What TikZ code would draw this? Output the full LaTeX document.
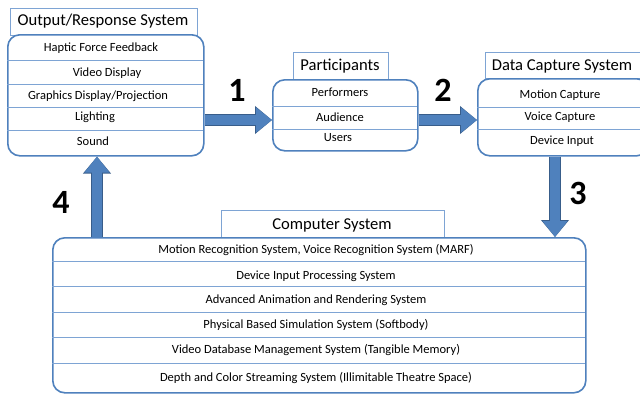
\documentclass[tikz,border=0pt]{standalone}
\usepackage{fontspec}
\setmainfont{Carlito}
\usetikzlibrary{arrows.meta}

\definecolor{boxblue}{RGB}{79,129,189}
\definecolor{rulblue}{RGB}{126,164,212}
\definecolor{arredge}{RGB}{56,93,138}

\tikzset{
  panel/.style={draw=boxblue,line width=1.6pt,rounded corners=12pt,fill=white,anchor=north west,inner sep=0pt},
  heading/.style={draw=rulblue,line width=.6pt,fill=white,anchor=north west,inner sep=0pt},
  title/.style={anchor=center,inner sep=0pt,font=\fontsize{16.6}{19}\selectfont},
  divider/.style={draw=rulblue,line width=.7pt},
  item/.style={anchor=center,inner sep=1pt,font=\fontsize{12.5}{14}\selectfont},
  stepnum/.style={anchor=center,inner sep=0pt,font=\fontsize{34}{38}\selectfont\bfseries},
  fatarrow/.style={draw=boxblue,line width=10pt,-{Triangle[length=16pt,width=24pt]},
    preaction={draw=arredge,line width=12pt,-{Triangle[length=17pt,width=27pt]}}}
}

\begin{document}
\begin{tikzpicture}[x=1pt,y=-1pt]
\path[use as bounding box,fill=white] (0,0) rectangle (640,397);
% link rows and columns
\coordinate (lnk) at (0,120);
\coordinate (dn) at (555,0);
\coordinate (up) at (97,0);
% output / response system
\node[heading,minimum width=187pt,minimum height=27pt] (outhead) at (10,8) {};
\node[title] (outtitle) at (103,21) {Output/Response System};
\node[panel,minimum width=196pt,minimum height=121pt] (outbox) at (7,34) {};
\draw[divider] (7,60) -- (203,60);
\draw[divider] (7,84) -- (203,84);
\draw[divider] (7,107) -- (203,107);
\draw[divider] (7,130) -- (203,130);
\node[item] (haptic) at (101,48) {Haptic Force Feedback};
\node[item] (video) at (107,73) {Video Display};
\node[item] (graph) at (98,96) {Graphics Display/Projection};
\node[item] (light) at (95,117) {Lighting};
\node[item] (sound) at (93,141) {Sound};
% participants
\node[heading,minimum width=95pt,minimum height=27pt] (parthead) at (293,52) {};
\node[title] (parttitle) at (340,66) {Participants};
\node[panel,minimum width=145pt,minimum height=71pt] (partbox) at (272,79) {};
\draw[divider] (272,106) -- (417,106);
\draw[divider] (272,129) -- (417,129);
\node[item] (perf) at (340,92) {Performers};
\node[item] (aud) at (340,117) {Audience};
\node[item] (users) at (338,138) {Users};
% data capture system
\node[heading,minimum width=160pt,minimum height=26pt] (dathead) at (485,52) {};
\node[title] (dattitle) at (562,66) {Data Capture System};
\node[panel,minimum width=171pt,minimum height=77pt] (datbox) at (477,78) {};
\draw[divider] (477,107) -- (648,107);
\draw[divider] (477,129) -- (648,129);
\node[item] (motcap) at (560,95) {Motion Capture};
\node[item] (voicap) at (560,117) {Voice Capture};
\node[item] (devin) at (562,141) {Device Input};
% computer system
\node[heading,minimum width=223pt,minimum height=27pt] (comphead) at (221,210) {};
\node[title] (comptitle) at (332,225) {Computer System};
\node[panel,minimum width=533pt,minimum height=155pt] (compbox) at (52,237) {};
\draw[divider] (52,261) -- (585,261);
\draw[divider] (52,286) -- (585,286);
\draw[divider] (52,312) -- (585,312);
\draw[divider] (52,337) -- (585,337);
\draw[divider] (52,363) -- (585,363);
\node[item] (recog) at (316,250) {Motion Recognition System, Voice Recognition System (MARF)};
\node[item] (devproc) at (316,276) {Device Input Processing System};
\node[item] (anim) at (316,300) {Advanced Animation and Rendering System};
\node[item] (phys) at (316,325) {Physical Based Simulation System (Softbody)};
\node[item] (vdb) at (316,350) {Video Database Management System (Tangible Memory)};
\node[item] (depth) at (316,378) {Depth and Color Streaming System (Illimitable Theatre Space)};
% flow between the systems
\draw[fatarrow] (outbox.east |- lnk) -- (partbox.west |- lnk);
\draw[fatarrow] (partbox.east |- lnk) -- (datbox.west |- lnk);
\draw[fatarrow] (datbox.south -| dn) -- (compbox.north -| dn);
\draw[fatarrow] (compbox.north -| up) -- (outbox.south -| up);
\node[stepnum] (one) at (237,90) {1};
\node[stepnum] (two) at (443,90) {2};
\node[stepnum] (three) at (578,193) {3};
\node[stepnum] (four) at (61,202) {4};
\end{tikzpicture}
\end{document}
